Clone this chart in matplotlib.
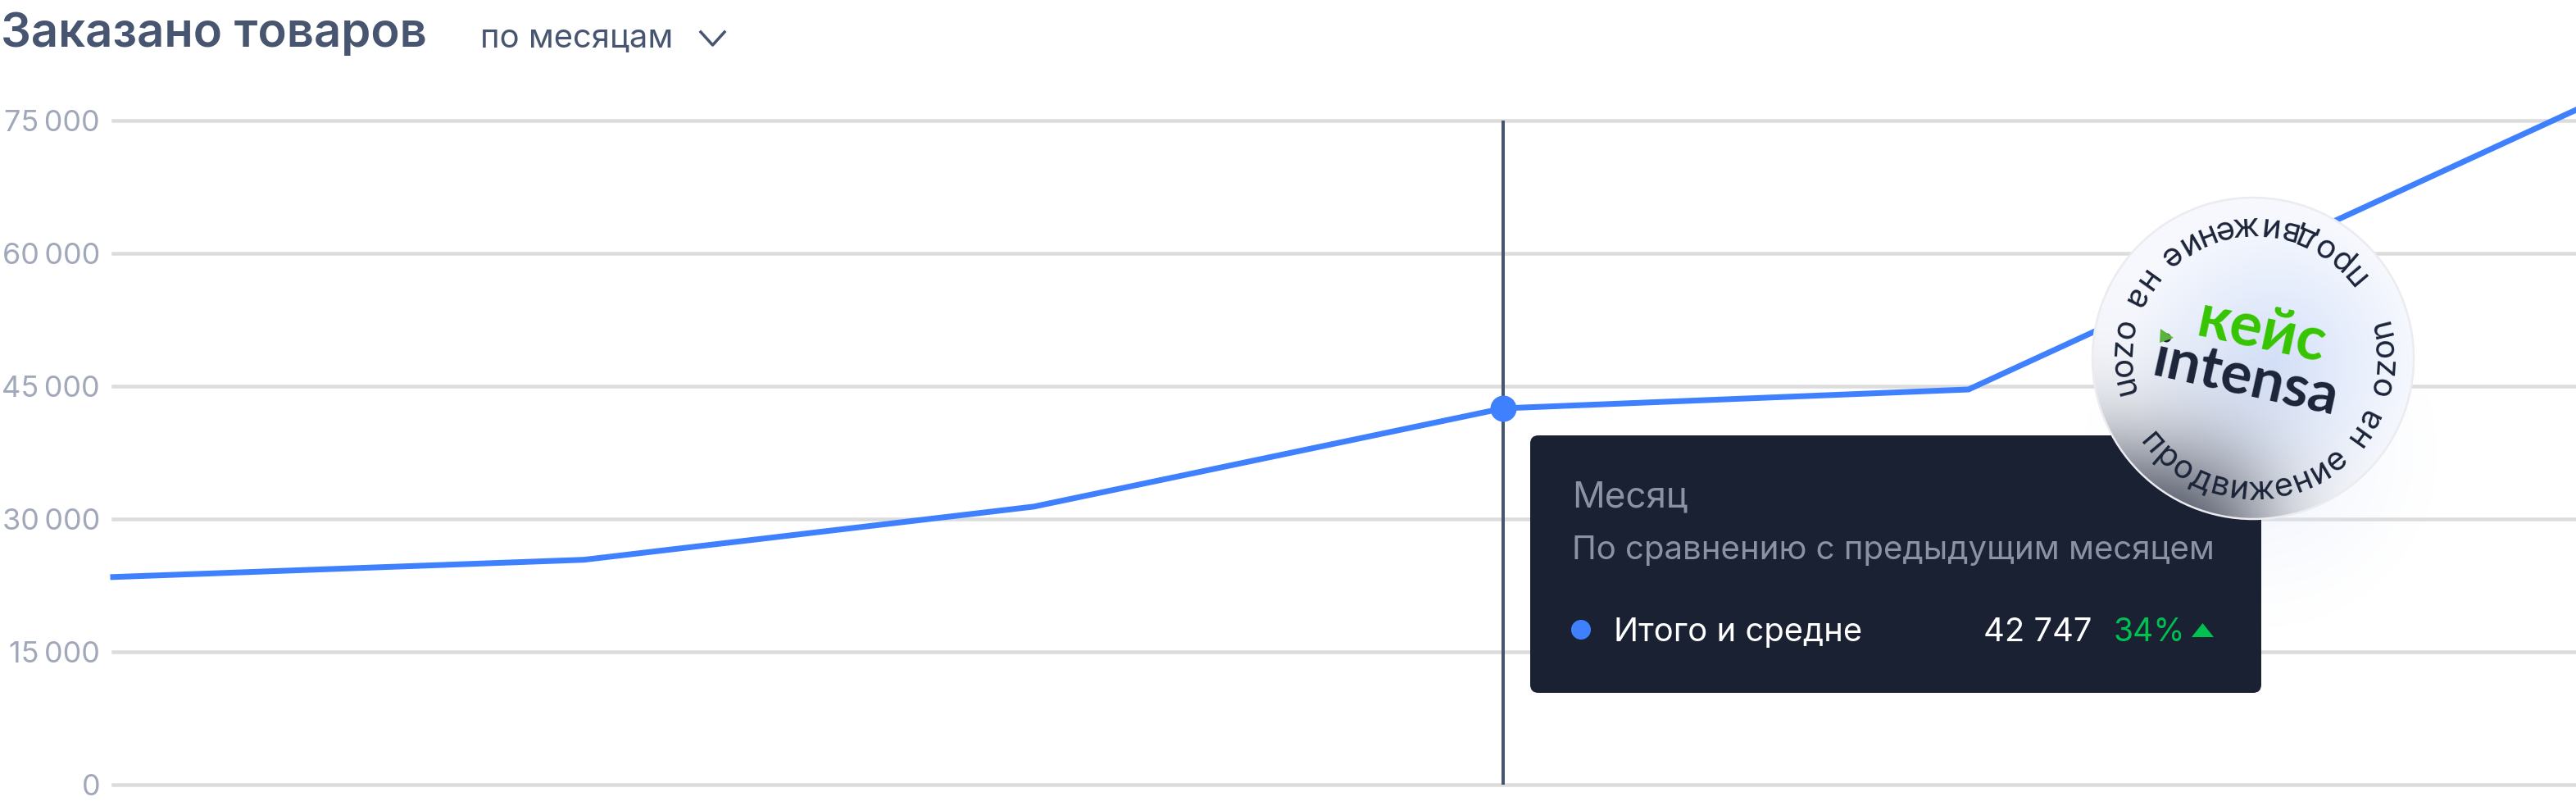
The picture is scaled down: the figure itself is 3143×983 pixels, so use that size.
import numpy as np
import matplotlib
matplotlib.use('Agg')
from matplotlib import pyplot as plt
from matplotlib import font_manager as fm
from matplotlib.patches import FancyBboxPatch, Polygon, Circle
from matplotlib.textpath import text_to_path

plt.rcParams['font.family'] = ['Inter', 'DejaVu Sans']

# chart values
months = [0, 1, 1.955, 2.952, 3.94, 5.23]
orders = [23450, 25400, 31400, 42500, 44630, 76200]
hover_month = 2.952
hover_value = 42500
y_ticks = [0, 15000, 30000, 45000, 60000, 75000]
y_labels = ['0', '15\u2009000', '30\u2009000', '45\u2009000', '60\u2009000', '75\u2009000']

W, H = 3143, 983
px = 72 / 100  # pixels -> points at dpi 100

BLUE = '#3f80ff'
NAVY = '#475570'
DARK = '#1a2133'
INK = '#1b2438'


def pt(n):
    return n * px


fig = plt.figure(figsize=(W / 100, H / 100), dpi=100, facecolor='white')

# main chart
ax = fig.add_axes([138 / W, (H - 957) / H, (W - 138) / W, 810 / H])
ax.set_xlim(0, 5.23)
ax.set_ylim(0, 75000)
for s in ax.spines.values():
    s.set_visible(False)
ax.set_xticks([])
ax.set_yticks(y_ticks)
ax.set_yticklabels(y_labels, fontsize=pt(36), color='#a0a8ba')
ax.tick_params(axis='y', length=0, pad=pt(16))
ax.grid(True, axis='y', color='#dcdcdc', lw=pt(4.5))
for g in ax.get_ygridlines():
    g.set_clip_on(False)
ax.set_axisbelow(True)
ax.plot([hover_month, hover_month], [0, 75000], color=NAVY, lw=pt(4), zorder=2, clip_on=False,
        solid_capstyle='butt')
ax.plot(months, orders, color=BLUE, lw=pt(7), zorder=3, clip_on=False, solid_joinstyle='miter')
ax.plot([hover_month], [hover_value], 'o', color=BLUE, ms=pt(32), mec='none', zorder=4)

# overlay in pixel coords for title, tooltip, badge
ov = fig.add_axes([0, 0, 1, 1])
ov.set_axis_off()
ov.patch.set_alpha(0)

ov.text(1, 57, 'Заказано товаров', fontsize=pt(58), color=NAVY, weight='semibold', va='baseline')
ov.text(586, 57, 'по месяцам', fontsize=pt(40), color=NAVY, va='baseline')
ov.plot([855, 869.5, 884], [39, 55, 39], color=NAVY, lw=pt(3.5))

cx, cy, R = 2749, 437, 196

# soft glow under the badge
gx0, gx1, gy0, gy1 = 2500, 3020, 300, 800
gy, gx = np.mgrid[gy0:gy1, gx0:gx1]
d = np.hypot(gx - 2758, gy - 550) / 220
glow = np.zeros(gx.shape + (4,))
glow[..., :3] = np.array([222, 232, 252]) / 255
glow[..., 3] = np.clip(1 - d, 0, 1) ** 1.3 * 0.55
ov.imshow(glow, extent=(gx0, gx1, gy1, gy0), aspect='auto', zorder=1, interpolation='bilinear')

# tooltip
ov.add_patch(FancyBboxPatch((1875, 539), 876, 298, boxstyle='round,pad=8,rounding_size=10',
                            fc=DARK, ec='none', zorder=2))
ov.text(1918, 618, 'Месяц', fontsize=pt(44), color='#8b93a3', zorder=3)
ov.text(1918, 682, 'По сравнению с предыдущим месяцем', fontsize=pt(40.2), color='#8b93a3', zorder=3)
ov.add_patch(Circle((1929, 768), 12, fc=BLUE, ec='none', zorder=3))
ov.text(1969, 782, 'Итого и средне', fontsize=pt(40), color='white', zorder=3)
ov.text(2552, 782, '42 747', fontsize=pt(40), color='white', ha='right', zorder=3)
ov.text(2579, 782, '34%', fontsize=pt(39), color='#00c04f', zorder=3)
ov.add_patch(Polygon([(2674, 777), (2701, 777), (2687.5, 760)], fc='#00c04f', ec='none', zorder=3))

# badge: glass disc, darkened where the tooltip sits behind it
x0, x1, y0, y1 = cx - R - 3, cx + R + 3, cy - R - 3, cy + R + 3
yy, xx = np.mgrid[y0:y1, x0:x1] + 0.5
r = np.hypot(xx - cx, yy - cy)
base = np.array([247, 249, 254]) / 255
tint = np.array([214, 226, 250]) / 255
mix = np.clip(1 - np.hypot(xx - 2775, yy - 440) / 180, 0, 1)[..., None]
rgb = base * (1 - mix) + tint * mix
shade = 1 / (1 + np.exp((xx - 2745) / 42)) * 1 / (1 + np.exp((570 - yy) / 42))
rgb = rgb * (1 - shade[..., None]) + (np.array([26, 33, 51]) / 255) * shade[..., None]
disc = np.zeros(xx.shape + (4,))
disc[..., :3] = rgb
disc[..., 3] = np.clip(R + 0.5 - r, 0, 1)
ov.imshow(disc, extent=(x0, x1, y1, y0), aspect='auto', zorder=4, interpolation='bilinear')
ov.add_patch(Circle((cx, cy), R, fc='none', ec='#ebebf0', lw=pt(2.5), zorder=5))

# curved badge captions, letter by letter
badge_text = 'продвижение на ozon'
badge_font = fm.FontProperties(family='Inter', size=pt(40))


def curved(text, start, span, radius):
    widths = []
    for ch in text:
        if ch == ' ':
            widths.append(12)
        else:
            widths.append(text_to_path.get_text_width_height_descent(ch, badge_font, False)[0])
    widths = np.array(widths, dtype=float) + 5
    pos = np.cumsum(widths) - widths / 2
    ang = start + pos / widths.sum() * span
    for ch, a in zip(text, ang):
        t = np.deg2rad(a)
        ov.text(cx + radius * np.cos(t), cy - radius * np.sin(t), ch, fontproperties=badge_font,
                color=INK, rotation=(a + 90) % 360, rotation_mode='anchor',
                ha='center', va='baseline', zorder=6)


curved(badge_text, 216, 162, 172)
curved(badge_text, 36, 162, 172)

ov.text(2678, 409, 'кейс', fontsize=pt(74), color='#36c400', weight='bold', rotation=-12,
        rotation_mode='anchor', family='Lato', zorder=6)
ov.text(2624, 457, 'intensa', fontsize=pt(71), color=INK, weight='bold', rotation=-12.5,
        rotation_mode='anchor', family='Lato', zorder=6)
ov.add_patch(Polygon([(2636, 401), (2652, 412), (2635, 418)], fc='#5ab43c', ec='none', zorder=7))

ov.set_xlim(0, W)
ov.set_ylim(H, 0)

fig.savefig('out.png', dpi=100)
